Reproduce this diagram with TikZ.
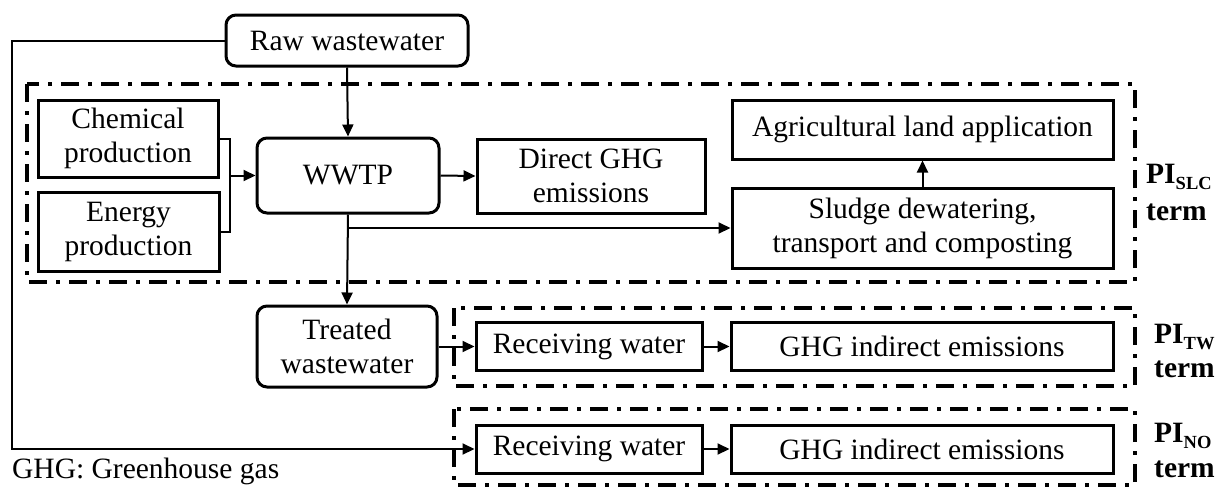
\documentclass[tikz,border=0pt]{standalone}
\usepackage{fontspec}
\setmainfont{Liberation Serif}
\usetikzlibrary{arrows.meta}
\newcommand{\pisub}[1]{PI\raisebox{-6pt}{\fontsize{18.5}{18.5}\selectfont #1}}
\begin{document}
\begin{tikzpicture}[x=1pt,y=-1pt,
  every node/.style={font=\fontsize{29.5}{34}\selectfont, inner sep=0pt, align=center},
  box/.style={draw, line width=3pt},
  rbox/.style={box, rounded corners=10pt},
  conn/.style={line width=2pt},
  arr/.style={conn, -{Triangle[length=12pt,width=11pt]}},
  region/.style={line width=4pt, dash pattern=on 18pt off 9pt on 4pt off 9pt},
  termlabel/.style={anchor=base west, align=left, font=\fontsize{29.5}{#1}\selectfont\bfseries}
]
\useasboundingbox (0,0) rectangle (1225,488);

% process boxes
\node[rbox, minimum width=242pt, minimum height=51pt] (raw) at (347,40.5) {Raw wastewater};
\node[box, minimum width=180pt, minimum height=77pt] (chem) at (128,138.5) {Chemical\\production};
\node[box, minimum width=181pt, minimum height=79pt] (energy) at (128.5,231.5) {Energy\\production};
\node[rbox, minimum width=182pt, minimum height=75pt] (wwtp) at (348,175.5) {WWTP};
\node[box, minimum width=228pt, minimum height=74pt] (direct) at (591,176) {Direct GHG\\emissions};
\node[box, minimum width=381pt, minimum height=59pt] (agri) at (922.5,129.5) {Agricultural land application};
\node[box, minimum width=381pt, minimum height=80pt] (sludge) at (922.5,228) {Sludge dewatering,\\transport and composting};
\node[rbox, minimum width=180pt, minimum height=81pt] (treated) at (347,346.5) {Treated\\wastewater};
\node[box, minimum width=226pt, minimum height=48pt] (recvA) at (589,346.5) {Receiving water};
\node[box, minimum width=382pt, minimum height=48pt] (ghgA) at (922,346.5) {GHG indirect emissions};
\node[box, minimum width=226pt, minimum height=48pt] (recvB) at (589,449) {Receiving water};
\node[box, minimum width=382pt, minimum height=48pt] (ghgB) at (922,449) {GHG indirect emissions};

% system boundaries
\draw[region] (27,84) rectangle (1135,282);
\draw[region] (454,308) rectangle (1135,386);
\draw[region] (454,409) rectangle (1135,485);

% boundary labels (anchored on the baseline of the "term" line)
\node[termlabel=37pt] (slc) at (1146,220) {\pisub{SLC}\\term};
\node[termlabel=34pt] (tw) at (1154,377) {\pisub{TW}\\term};
\node[termlabel=35pt] (no) at (1154,477) {\pisub{NO}\\term};

\node[anchor=base west] (note) at (12,478) {GHG: Greenhouse gas};

% connectors
\coordinate (merge) at (230,175.5);
\draw[conn] (chem.east) -| (merge) |- (energy.east);
\draw[arr] (merge) -- (wwtp.west);
\draw[arr] (raw.south) -- (wwtp.north);
\draw[arr] (wwtp.east) -- (direct.west);
\draw[arr] (wwtp.south) -- (treated.north);
\draw[arr] (wwtp.south |- sludge.west) -- (sludge.west);
\draw[arr] (sludge.north) -- (agri.south);
\draw[arr] (treated.east) -- (recvA.west);
\draw[arr] (recvA.east) -- (ghgA.west);
\draw[arr] (recvB.east) -- (ghgB.west);
\coordinate (bypass) at (12,449);
\draw[arr] (raw.west) -| (bypass) -- (recvB.west);
\end{tikzpicture}
\end{document}
